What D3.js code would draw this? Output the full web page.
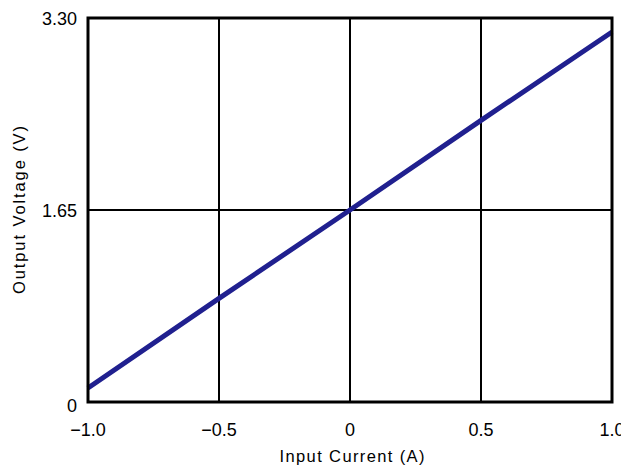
<!DOCTYPE html>
<html>
<head>
<meta charset="utf-8">
<script src="https://cdn.jsdelivr.net/npm/d3@7"></script>
<style>
  body { margin: 0; background: #fff; }
  text { font-family: "Liberation Sans", Arial, sans-serif; fill: #000; }
</style>
</head>
<body>
<svg id="chart"></svg>
<script>
// values
const currents = [-1.0, -0.5, 0, 0.5, 1.0];
const voltages = [0.12, 0.89, 1.65, 2.42, 3.18];
const xTicks = [-1.0, -0.5, 0, 0.5, 1.0];
const xTickLabels = ["\u22121.0", "\u22120.5", "0", "0.5", "1.0"];
const yTicks = [0, 1.65, 3.30];
const yTickLabels = ["0", "1.65", "3.30"];

const width = 621, height = 467;
const marginLeft = 88, marginRight = 9, marginTop = 18, marginBottom = 65;

const svg = d3.select('#chart')
  .attr('width', width)
  .attr('height', height);

const x = d3.scaleLinear().domain([-1, 1]).range([marginLeft, width - marginRight]);
const y = d3.scaleLinear().domain([0, 3.3]).range([height - marginBottom, marginTop]);

// grid
svg.append('g').selectAll('line')
  .data(xTicks.slice(1, -1))
  .join('line')
  .attr('x1', d => x(d)).attr('x2', d => x(d))
  .attr('y1', y(0)).attr('y2', y(3.3))
  .style('stroke', '#000').style('stroke-width', 2);

svg.append('g').selectAll('line')
  .data(yTicks.slice(1, -1))
  .join('line')
  .attr('x1', x(-1)).attr('x2', x(1))
  .attr('y1', d => y(d)).attr('y2', d => y(d))
  .style('stroke', '#000').style('stroke-width', 2);

// data line
const line = d3.line().x((d, i) => x(currents[i])).y(d => y(d));
svg.append('path')
  .datum(voltages)
  .attr('d', line)
  .style('fill', 'none')
  .style('stroke', '#20208f')
  .style('stroke-width', 5);

// frame
svg.append('rect')
  .attr('x', x(-1)).attr('y', y(3.3))
  .attr('width', x(1) - x(-1)).attr('height', y(0) - y(3.3))
  .style('fill', 'none').style('stroke', '#000').style('stroke-width', 3);

// tick labels
svg.append('g').selectAll('text')
  .data(xTicks)
  .join('text')
  .attr('x', d => x(d))
  .attr('y', y(0) + 34)
  .attr('text-anchor', 'middle')
  .style('font-size', '18px')
  .text((d, i) => xTickLabels[i]);

svg.append('g').selectAll('text')
  .data(yTicks)
  .join('text')
  .attr('x', x(-1) - 11)
  .attr('y', d => y(d) + (d === 0 ? 10 : 7))
  .attr('text-anchor', 'end')
  .style('font-size', '18px')
  .text((d, i) => yTickLabels[i]);

// axis titles
svg.append('text')
  .attr('x', 352).attr('y', 462)
  .attr('text-anchor', 'middle')
  .attr('textLength', 145).attr('lengthAdjust', 'spacing')
  .style('font-size', '16.5px')
  .text('Input Current (A)');

svg.append('text')
  .attr('transform', `translate(25,${(y(0) + y(3.3)) / 2}) rotate(-90)`)
  .attr('text-anchor', 'middle')
  .attr('textLength', 168).attr('lengthAdjust', 'spacing')
  .style('font-size', '16.5px')
  .text('Output Voltage (V)');
</script>
</body>
</html>
